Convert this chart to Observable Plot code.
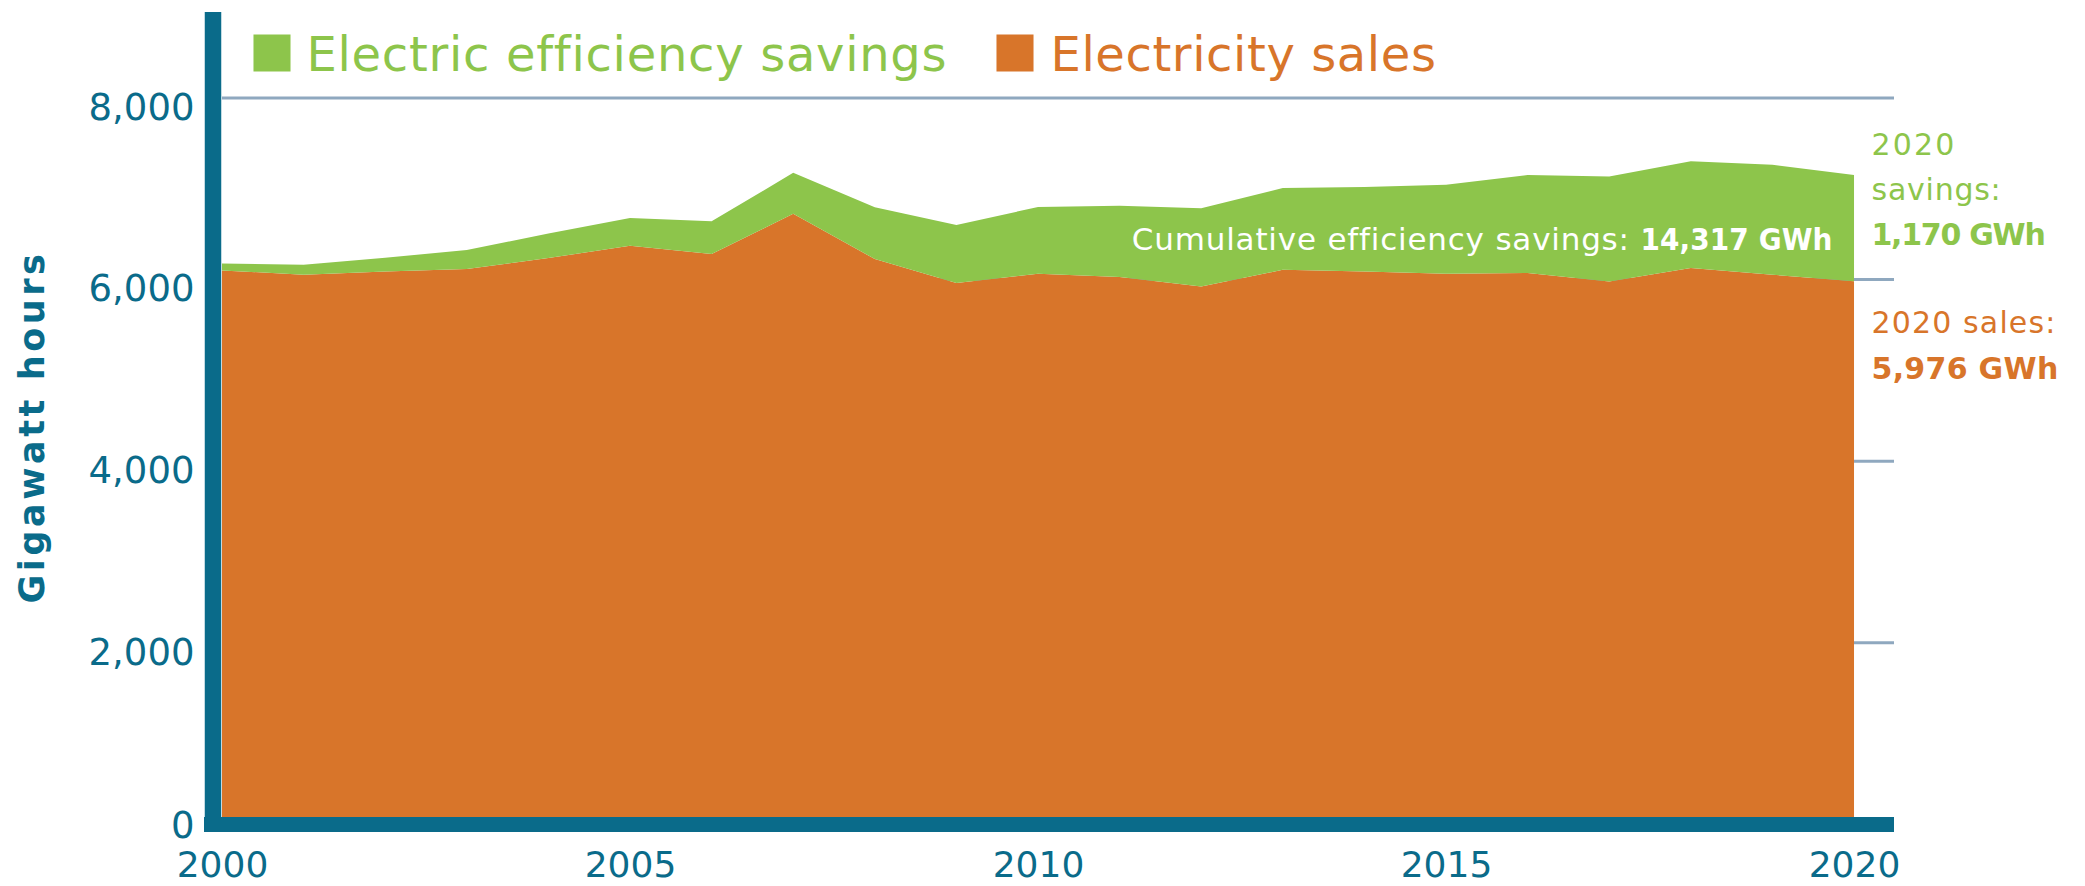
<!DOCTYPE html>
<html>
<head>
<meta charset="utf-8">
<script src="https://cdn.jsdelivr.net/npm/d3@7"></script>
<script src="https://cdn.jsdelivr.net/npm/@observablehq/plot@0.6"></script>
<style>
  html, body { margin: 0; padding: 0; background: #ffffff; }
  #chart { width: 2085px; height: 886px; overflow: hidden; }
</style>
</head>
<body>
<div id="chart"></div>
<script>
// ---- data ----
const years   = [2000, 2001, 2002, 2003, 2004, 2005, 2006, 2007, 2008, 2009, 2010,
                 2011, 2012, 2013, 2014, 2015, 2016, 2017, 2018, 2019, 2020];
const sales   = [6095, 6047, 6084, 6110, 6231, 6367, 6275, 6719, 6220, 5956, 6058,
                 6022, 5919, 6102, 6084, 6058, 6066, 5974, 6121, 6047, 5976];
const savings = [75, 110, 150, 210, 270, 305, 360, 450, 570, 640, 735,
                 785, 860, 900, 930, 980, 1080, 1155, 1175, 1210, 1170];
const seriesNames  = ["Electricity sales", "Electric efficiency savings"];
const seriesColors = ["#D8752A", "#8DC54B"];
const xTicks    = [2000, 2005, 2010, 2015, 2020];
const gridTicks = [2000, 4000, 6000, 8000];
const zeroTick  = [0];
const yTitle    = "Gigawatt hours";
const noteRegular = "Cumulative efficiency savings: ";
const noteBold    = "14,317 GWh";
const rightSavings = ["2020", "savings:", "1,170 GWh"];
const rightSales   = ["2020 sales:", "5,976 GWh"];

// ---- styling / layout ----
const teal = "#0A6B8A";
const gridColor = "#8FA8BF";
const green = seriesColors[1], orange = seriesColors[0];
const fmt = d3.format(",");
const font = "DejaVu Sans";
// text widths (px) measured on the reference, used to tune letter-spacing
const targetWidth = new Map([
  [seriesNames[1], 640], [seriesNames[0], 386], [yTitle, 353],
  [noteRegular, 508], [noteBold, 192],
  [rightSavings[0], 85], [rightSavings[1], 130], [rightSavings[2], 173],
  [rightSales[0], 185], [rightSales[1], 187]
]);

const table = years.flatMap((year, i) => [
  {year, series: seriesNames[0], value: sales[i]},
  {year, series: seriesNames[1], value: savings[i]}
]);
const li = years.length - 1;
const last = {year: years[li], sales: sales[li], total: sales[li] + savings[li]};
const legendItems = [
  {name: seriesNames[1], color: green, sq: 49.5, tx: 84},
  {name: seriesNames[0], color: orange, sq: 792.5, tx: 828}
];

const plot = Plot.plot({
  width: 2085,
  height: 886,
  marginLeft: 222,
  marginRight: 191,
  marginTop: 12,
  marginBottom: 62,
  style: {fontFamily: font, background: "#ffffff", overflow: "visible"},
  x: {domain: [2000, 2020.49], label: null},
  y: {domain: [0, 8940], label: null},
  color: {domain: seriesNames, range: seriesColors},
  marks: [
    Plot.ruleY(gridTicks, {stroke: gridColor, strokeWidth: 3}),
    Plot.areaY(table, {x: "year", y: "value", fill: "series", order: seriesNames}),
    // axis bars
    Plot.ruleX([years[0]], {stroke: teal, strokeWidth: 16.5, dx: -9.5, insetBottom: -7}),
    Plot.ruleY(zeroTick, {stroke: teal, strokeWidth: 15, insetLeft: -18}),
    // tick labels
    Plot.axisY(gridTicks, {tickSize: 0, tickPadding: 28, tickFormat: fmt, fontSize: 37, color: teal, dy: 10, label: null}),
    Plot.axisY(zeroTick, {tickSize: 0, tickPadding: 28, tickFormat: fmt, fontSize: 37, color: teal, dy: 2, label: null}),
    Plot.axisX(xTicks, {tickSize: 0, tickPadding: 27, tickFormat: d => String(d), fontSize: 36, color: teal, label: null}),
    // y title
    Plot.text([yTitle], {frameAnchor: "left", textAnchor: "middle", rotate: -90, dx: -190, dy: 8.5, fontSize: 35, fontWeight: "bold", fill: teal}),
    // legend
    Plot.dot(legendItems, {frameAnchor: "top-left", symbol: "square", r: 20.9, fill: d => d.color, dy: 40.5,
      render: (index, scales, values, dims, ctx, next) => {
        const g = next(index, scales, values, dims, ctx);
        d3.select(g).selectAll("path").attr("transform", (d, j) => `translate(${dims.marginLeft + legendItems[index[j]].sq},${dims.marginTop})`);
        return g;
      }}),
    ...legendItems.map(d => Plot.text([d.name], {frameAnchor: "top-left", dx: d.tx, dy: 58, lineAnchor: "bottom", textAnchor: "start", fontSize: 48, fill: d.color})),
    // annotation inside the green band
    Plot.text([last], {x: "year", y: "total", text: () => noteRegular + noteBold, textAnchor: "end", lineAnchor: "bottom", dx: -22, dy: 75, fontSize: 31, fill: "#ffffff"}),
    // right-side labels
    Plot.text([last], {x: "year", y: "total", text: () => rightSavings[0], textAnchor: "start", lineAnchor: "bottom", dx: 17, dy: -20, fontSize: 30, fill: green}),
    Plot.text([last], {x: "year", y: "total", text: () => rightSavings[1], textAnchor: "start", lineAnchor: "bottom", dx: 17, dy: 25, fontSize: 30, fill: green}),
    Plot.text([last], {x: "year", y: "total", text: () => rightSavings[2], textAnchor: "start", lineAnchor: "bottom", dx: 17, dy: 70, fontSize: 30, fontWeight: "bold", fill: green}),
    Plot.text([last], {x: "year", y: "sales", text: () => rightSales[0], textAnchor: "start", lineAnchor: "bottom", dx: 17, dy: 51, fontSize: 30, fill: orange}),
    Plot.text([last], {x: "year", y: "sales", text: () => rightSales[1], textAnchor: "start", lineAnchor: "bottom", dx: 17, dy: 97, fontSize: 30, fontWeight: "bold", fill: orange})
  ]
});

document.getElementById("chart").appendChild(plot);
const svg = d3.select(plot);

// mixed-weight annotation: split into a regular and a bold run
svg.selectAll("text").filter(function() { return this.textContent === noteRegular + noteBold; })
  .each(function() {
    const t = d3.select(this);
    t.text(null);
    t.append("tspan").text(noteRegular);
    t.append("tspan").attr("font-weight", "bold").style("font-stretch", "condensed").text(noteBold);
  });

// tune letter-spacing so each text run spans the reference width (axes excluded)
function fit(el) {
  const s = el.textContent;
  if (!targetWidth.has(s)) return;
  const natural = el.getComputedTextLength();
  const ls = (targetWidth.get(s) - natural) / s.length;
  el.style.letterSpacing = ls.toFixed(2) + "px";
}
svg.selectAll("text").each(function() {
  const g = this.closest("g[aria-label]");
  if (g && /axis/.test(g.getAttribute("aria-label"))) return;
  if (this.querySelector("tspan")) this.querySelectorAll("tspan").forEach(fit);
  else fit(this);
});
</script>
</body>
</html>
